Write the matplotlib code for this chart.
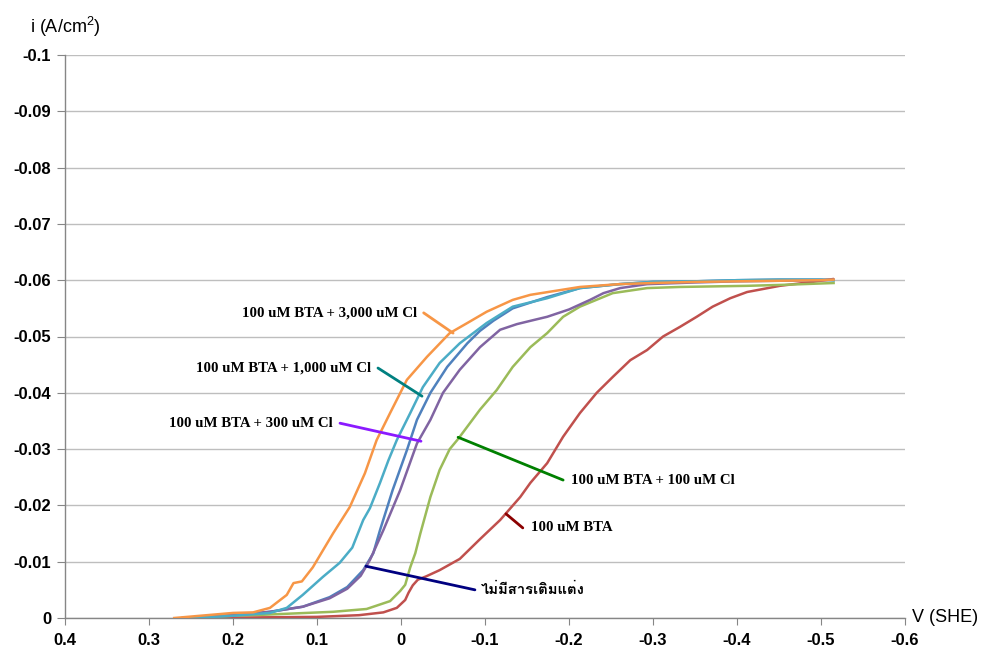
import numpy as np
import matplotlib
matplotlib.use('Agg')
import matplotlib.pyplot as plt
from matplotlib import font_manager
from matplotlib.ft2font import FT2Font

# polarisation curves, potential V (SHE) vs current density i (A/cm2)
v_none = [0.25, 0.2, 0.156, 0.117, 0.085, 0.064, 0.045, 0.033, 0.025, 0.010, -0.007, -0.019,
          -0.035, -0.055, -0.079, -0.094, -0.110, -0.133, -0.174, -0.213, -0.26, -0.3,
          -0.35, -0.4, -0.45, -0.5, -0.515]
i_none = [0, -0.0005, -0.0011, -0.002, -0.0037, -0.0055, -0.0085, -0.0115, -0.0156, -0.0227,
          -0.0298, -0.0352, -0.040, -0.0446, -0.0488, -0.051, -0.0528, -0.055, -0.057, -0.0586,
          -0.0593, -0.0597, -0.0598, -0.0600, -0.0601, -0.0601, -0.0600]

v_bta = [0.26, 0.1, 0.05, 0.021, 0.005, -0.005, -0.009, -0.014, -0.02, -0.03, -0.046, -0.07,
         -0.094, -0.118, -0.142, -0.154, -0.174, -0.193, -0.213, -0.233, -0.252, -0.273,
         -0.293, -0.312, -0.332, -0.352, -0.371, -0.392, -0.412, -0.451, -0.490, -0.514]
i_bta = [0, -0.0002, -0.0005, -0.001, -0.0018, -0.0032, -0.0045, -0.0058, -0.0068, -0.0074,
         -0.0085, -0.0105, -0.014, -0.0174, -0.0215, -0.024, -0.0275, -0.0322, -0.0364, -0.040,
         -0.0428, -0.0458, -0.0476, -0.050, -0.0517, -0.0535, -0.0553, -0.0568, -0.0579,
         -0.059, -0.0597, -0.0602]

v_cl100 = [0.25, 0.2, 0.16, 0.081, 0.041, 0.013, 0.001, -0.005, -0.011, -0.017, -0.023, -0.035,
           -0.046, -0.058, -0.068, -0.094, -0.114, -0.133, -0.154, -0.174, -0.193, -0.213,
           -0.252, -0.293, -0.332, -0.412, -0.46, -0.515]
i_cl100 = [0, -0.0004, -0.0006, -0.0011, -0.0016, -0.003, -0.0048, -0.0059, -0.009, -0.0115,
           -0.015, -0.0215, -0.0263, -0.030, -0.0318, -0.037, -0.0405, -0.0446, -0.0481,
           -0.0506, -0.0535, -0.0553, -0.0577, -0.0586, -0.0588, -0.059, -0.0592, -0.0595]

v_cl300 = [0.25, 0.2, 0.156, 0.117, 0.085, 0.064, 0.048, 0.037, 0.021, 0.001, -0.019, -0.035,
           -0.050, -0.070, -0.094, -0.118, -0.138, -0.16, -0.174, -0.2, -0.225, -0.241, -0.261,
           -0.293, -0.35, -0.4, -0.45, -0.5, -0.515]
i_cl300 = [0, -0.0005, -0.0011, -0.002, -0.0035, -0.0052, -0.0075, -0.0103, -0.0156, -0.0227,
           -0.031, -0.0352, -0.040, -0.0441, -0.0481, -0.0512, -0.0522, -0.053, -0.0535,
           -0.0548, -0.0565, -0.0577, -0.0586, -0.0593, -0.0596, -0.0598, -0.0599, -0.0600,
           -0.0601]

v_cl1000 = [0.25, 0.2, 0.156, 0.136, 0.117, 0.108, 0.093, 0.073, 0.058, 0.045, 0.037, 0.025,
            0.015, 0.005, -0.011, -0.026, -0.046, -0.070, -0.102, -0.133, -0.174, -0.213,
            -0.26, -0.3, -0.35, -0.4, -0.45, -0.5, -0.515]
i_cl1000 = [0, -0.0004, -0.0009, -0.0018, -0.0041, -0.0053, -0.0073, -0.0098, -0.0125, -0.0174,
            -0.0195, -0.024, -0.028, -0.0316, -0.0364, -0.041, -0.0453, -0.0488, -0.0524,
            -0.0553, -0.0568, -0.0586, -0.0593, -0.0597, -0.0598, -0.0600, -0.0601, -0.0601,
            -0.0600]

v_cl3000 = [0.27, 0.2, 0.176, 0.156, 0.136, 0.128, 0.118, 0.105, 0.081, 0.061, 0.043, 0.029,
            0.013, -0.007, -0.031, -0.058, -0.079, -0.102, -0.133, -0.154, -0.213, -0.26, -0.3,
            -0.35, -0.4, -0.45, -0.5, -0.515]
i_cl3000 = [0, -0.0009, -0.001, -0.0018, -0.0041, -0.0062, -0.0065, -0.009, -0.015, -0.0197,
            -0.0257, -0.0316, -0.0364, -0.0423, -0.0464, -0.0506, -0.0524, -0.0544, -0.0565,
            -0.0574, -0.0588, -0.0593, -0.0595, -0.0597, -0.0598, -0.0599, -0.0600, -0.0601]

x_ticks = [0.4, 0.3, 0.2, 0.1, 0, -0.1, -0.2, -0.3, -0.4, -0.5, -0.6]
x_labels = ['0.4', '0.3', '0.2', '0.1', '0', '-0.1', '-0.2', '-0.3', '-0.4', '-0.5', '-0.6']
y_ticks = [0, -0.01, -0.02, -0.03, -0.04, -0.05, -0.06, -0.07, -0.08, -0.09, -0.1]
y_labels = ['0', '-0.01', '-0.02', '-0.03', '-0.04', '-0.05', '-0.06', '-0.07', '-0.08',
            '-0.09', '-0.1']

label_none = 'ไม่มีสารเติมแต่ง'
label_bta = '100 uM BTA'
label_cl100 = '100 uM BTA + 100 uM Cl'
label_cl300 = '100 uM BTA + 300 uM Cl'
label_cl1000 = '100 uM BTA + 1,000 uM Cl'
label_cl3000 = '100 uM BTA + 3,000 uM Cl'


def thai_family():
    # first installed font that has Thai glyphs, if any
    for f in font_manager.fontManager.ttflist:
        try:
            if 0x0E44 in FT2Font(f.fname).get_charmap():
                return f.name
        except Exception:
            pass
    return None


plt.rcParams['mathtext.default'] = 'regular'

fig = plt.figure(figsize=(9.84, 6.5), dpi=100)
fig.set_facecolor('white')
ax = fig.add_axes([65 / 984, 32 / 650, 840 / 984, 563 / 650])

lw = 1.8
ax.plot(v_none, i_none, color='#4F81BD', lw=lw, zorder=3)
ax.plot(v_bta, i_bta, color='#C0504D', lw=lw, zorder=3)
ax.plot(v_cl100, i_cl100, color='#9BBB59', lw=lw, zorder=3)
ax.plot(v_cl300, i_cl300, color='#8064A2', lw=lw, zorder=3)
ax.plot(v_cl1000, i_cl1000, color='#4BACC6', lw=lw, zorder=3)
ax.plot(v_cl3000, i_cl3000, color='#F79646', lw=lw, zorder=3)

ax.set_xlim(0.4, -0.6)
ax.set_ylim(0, -0.1)
ax.set_xticks(x_ticks)
ax.set_xticklabels(x_labels)
ax.set_yticks(y_ticks)
ax.set_yticklabels(y_labels)
for lab in ax.get_xticklabels() + ax.get_yticklabels():
    lab.set_fontfamily('Liberation Sans')
    lab.set_fontweight('bold')
    lab.set_fontsize(12)
ax.tick_params(axis='x', direction='out', length=5, color='#868686', pad=6)
ax.tick_params(axis='y', direction='out', length=6, color='#868686', pad=4)
ax.grid(axis='y', color='#BEBEBE', lw=1)
ax.set_axisbelow(True)
for s in ['top', 'right']:
    ax.spines[s].set_visible(False)
for s in ['left', 'bottom']:
    ax.spines[s].set_color('#868686')
    ax.spines[s].set_linewidth(1)

fig.text(30 / 984, 1 - 27 / 650, 'i (A/cm$^{2}$)', fontsize=13, family='Liberation Sans',
         va='center', ha='left')
fig.text(912 / 984, 1 - 618 / 650, 'V (SHE)', fontsize=13, family='Liberation Sans',
         va='center', ha='left')

# callouts: (label, point on curve, text anchor, leader colour, text side)
serif = dict(family='Liberation Serif', fontweight='bold', fontsize=10.7)
callouts = [
    (label_cl3000, (-0.062, -0.0506), (-0.027, -0.0542), '#F79646', 'right'),
    (label_cl1000, (-0.025, -0.0394), (0.0274, -0.0444), '#008080', 'right'),
    (label_cl300, (-0.0238, -0.0314), (0.0726, -0.0346), '#8B1AFF', 'right'),
    (label_cl100, (-0.068, -0.0321), (-0.193, -0.0245), '#008000', 'left'),
    (label_bta, (-0.125, -0.0185), (-0.145, -0.016), '#8B0000', 'left'),
]
for text, xy, xyt, c, ha in callouts:
    ax.annotate('', xy=xy, xytext=xyt,
                arrowprops=dict(arrowstyle='-', color=c, lw=2, shrinkA=0, shrinkB=0),
                zorder=4)
    off = -5 if ha == 'right' else 6
    ax.annotate(text, xy=xyt, xytext=(off, 0), textcoords='offset points',
                ha=ha, va='center', zorder=5, **serif)

thai = thai_family()
fams = ['Liberation Serif'] + ([thai] if thai else []) + ['DejaVu Sans']
ax.annotate('', xy=(0.0417, -0.0092), xytext=(-0.088, -0.005),
            arrowprops=dict(arrowstyle='-', color='#000080', lw=2, shrinkA=0, shrinkB=0),
            zorder=4)
ax.annotate(label_none, xy=(-0.088, -0.005), xytext=(4, 0), textcoords='offset points',
            ha='left', va='center', family=fams, fontweight='bold', fontsize=10.7, zorder=5)

plt.savefig('out.png', dpi=100, facecolor='white')
